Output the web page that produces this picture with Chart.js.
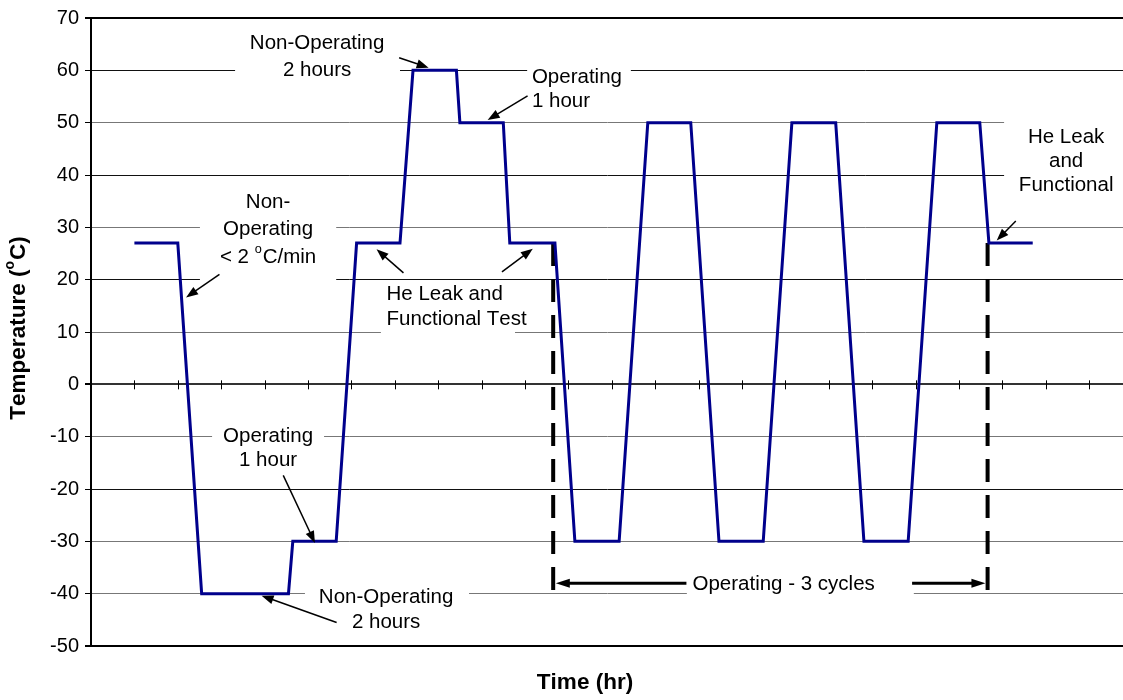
<!DOCTYPE html>
<html>
<head>
<meta charset="utf-8">
<script src="https://cdn.jsdelivr.net/npm/chart.js@4.4.0/dist/chart.umd.min.js"></script>
<style>
  html, body { margin: 0; padding: 0; background: #fff; }
  canvas { display: block; }
</style>
</head>
<body>
<canvas id="cycleChart" width="1123" height="700"></canvas>
<script>
// temperature profile (time in hours, temperature in deg C)
const hours = [1.0, 2.0, 2.55, 4.55, 4.65, 5.65, 6.12, 7.12, 7.42, 8.42, 8.5, 9.5, 9.65, 10.69,
  11.15, 12.17, 12.83, 13.82, 14.47, 15.49, 16.15, 17.16, 17.81, 18.83, 19.49, 20.48, 20.69, 21.7];
const tempC = [27, 27, -40, -40, -30, -30, 27, 27, 60, 60, 50, 50, 27, 27,
  -30, -30, 50, 50, -30, -30, 50, 50, -30, -30, 50, 50, 27, 27];

// start / end of the operating cycles
const markerHours = [10.65, 20.66];
const markerRange = [27, -40];

const yTicks = [70, 60, 50, 40, 30, 20, 10, 0, -10, -20, -30, -40, -50];
const hourTicks = [1, 2, 3, 4, 5, 6, 7, 8, 9, 10, 11, 12, 13, 14, 15, 16, 17, 18, 19, 20, 21, 22, 23];

const FONT = '"Liberation Sans", Arial, Helvetica, sans-serif';
const TXT = 20.5;

// callouts: text lines at (x, y[i]) in data units, white box behind [x0, x1, y0, y1]
const notes = [
  { lines: ['Non-Operating', '2 hours'], x: 5.21, y: [65.1, 60.0], align: 'center', box: [3.32, 7.12, 67.9, 57.4] },
  { lines: ['Operating', '1 hour'], x: 10.16, y: [58.6, 54.0], align: 'left', box: [10.05, 12.44, 62.0, 52.1] },
  { lines: ['Non-', 'Operating', '< 2 ^oC/min'], x: 4.08, y: [34.8, 29.7, 24.3], align: 'center', box: [2.51, 5.65, 37.6, 17.4] },
  { lines: ['Operating', '1 hour'], x: 4.08, y: [-9.9, -14.5], align: 'center', box: [2.79, 5.37, -6.9, -17.6] },
  { lines: ['Non-Operating', '2 hours'], x: 6.80, y: [-40.7, -45.5], align: 'center', box: [4.93, 8.71, -37.2, -48.8] },
  { lines: ['He Leak and', 'Functional Test'], x: 6.81, y: [17.2, 12.45], align: 'left', box: [6.68, 9.77, 19.2, 7.9] },
  { lines: ['He Leak', 'and', 'Functional'], x: 22.47, y: [47.2, 42.6, 38.0], align: 'center', box: [21.04, 24, 54.0, 33.8] },
  { lines: ['Operating - 3 cycles'], x: 15.96, y: [-38.2], align: 'center', box: [13.73, 18.96, -34.5, -42.2] }
];

// arrows: tail (x, y) -> head (x, y), line width
const arrows = [
  [7.10, 62.4, 7.78, 60.5, 1.5],
  [10.06, 55.1, 9.14, 50.5, 1.5],
  [2.96, 21.0, 2.19, 16.6, 1.5],
  [4.43, -17.4, 5.16, -30.3, 1.5],
  [5.66, -45.5, 3.93, -40.4, 1.5],
  [7.20, 21.3, 6.58, 25.8, 1.5],
  [9.47, 21.5, 10.18, 25.9, 1.5],
  [21.31, 31.2, 20.87, 27.5, 1.5],
  [13.72, -38.0, 10.71, -38.0, 3],
  [18.92, -38.0, 20.61, -38.0, 3]
];

function richWidth(ctx, text, size, bold) {
  let w = 0;
  for (let i = 0; i < text.length; i++) {
    if (text[i] === '^') {
      ctx.font = (bold ? 'bold ' : '') + (size * 0.62) + 'px ' + FONT;
      w += ctx.measureText(text[i + 1]).width + 1;
      i++;
    } else {
      ctx.font = (bold ? 'bold ' : '') + size + 'px ' + FONT;
      w += ctx.measureText(text[i]).width;
    }
  }
  return w;
}

// draws text where "^x" puts the character x in superscript
function richText(ctx, text, x, y, align, size, bold) {
  const w = richWidth(ctx, text, size, bold);
  let cx = align === 'center' ? x - w / 2 : x;
  ctx.textAlign = 'left';
  ctx.textBaseline = 'middle';
  for (let i = 0; i < text.length; i++) {
    if (text[i] === '^') {
      ctx.font = (bold ? 'bold ' : '') + (size * 0.62) + 'px ' + FONT;
      ctx.fillText(text[i + 1], cx, y - size * 0.38);
      cx += ctx.measureText(text[i + 1]).width + 1;
      i++;
    } else {
      ctx.font = (bold ? 'bold ' : '') + size + 'px ' + FONT;
      ctx.fillText(text[i], cx, y);
      cx += ctx.measureText(text[i]).width;
    }
  }
}

function drawArrow(ctx, x0, y0, x1, y1, lw) {
  const a = Math.atan2(y1 - y0, x1 - x0);
  const len = lw > 2 ? 14 : 12, half = lw > 2 ? 4.5 : 4.5;
  const c = Math.cos(a), s = Math.sin(a);
  ctx.lineWidth = lw;
  ctx.beginPath();
  ctx.moveTo(x0, y0);
  ctx.lineTo(x1 - c * len * 0.7, y1 - s * len * 0.7);
  ctx.stroke();
  ctx.beginPath();
  ctx.moveTo(x1, y1);
  ctx.lineTo(x1 - c * len + s * half, y1 - s * len - c * half);
  ctx.lineTo(x1 - c * len - s * half, y1 - s * len + c * half);
  ctx.closePath();
  ctx.fill();
}

const calloutPlugin = {
  id: 'callouts',
  beforeDatasetsDraw(chart) {
    const { ctx, scales: { x, y } } = chart;
    ctx.save();
    // zero line with hour ticks
    const y0 = y.getPixelForValue(0);
    ctx.strokeStyle = '#000';
    ctx.lineWidth = 1;
    hourTicks.forEach(h => {
      const px = Math.round(x.getPixelForValue(h)) + 0.5;
      ctx.beginPath();
      ctx.moveTo(px, y0 - 4);
      ctx.lineTo(px, y0 + 5);
      ctx.stroke();
    });
    // white boxes behind the callout text
    ctx.fillStyle = '#fff';
    notes.forEach(n => {
      const [a, b, top, bot] = n.box;
      const l = x.getPixelForValue(a), r = x.getPixelForValue(b);
      const t = y.getPixelForValue(top), btm = y.getPixelForValue(bot);
      ctx.fillRect(l, t, r - l, btm - t);
    });
    ctx.restore();
  },
  afterDatasetsDraw(chart) {
    const { ctx, scales: { x, y } } = chart;
    ctx.save();
    ctx.fillStyle = '#000';
    notes.forEach(n => {
      n.lines.forEach((line, i) => {
        richText(ctx, line, x.getPixelForValue(n.x), y.getPixelForValue(n.y[i]), n.align, TXT, false);
      });
    });
    ctx.strokeStyle = '#000';
    arrows.forEach(([a, b, c, d, lw]) => {
      drawArrow(ctx, x.getPixelForValue(a), y.getPixelForValue(b), x.getPixelForValue(c), y.getPixelForValue(d), lw);
    });
    ctx.restore();
  },
  afterDraw(chart) {
    const { ctx } = chart;
    ctx.save();
    ctx.fillStyle = '#000';
    // axis titles
    richText(ctx, 'Time (hr)', 585, 683, 'center', 22.5, true);
    ctx.translate(19, 328);
    ctx.rotate(-Math.PI / 2);
    richText(ctx, 'Temperature (^oC)', 0, 0, 'center', 22.5, true);
    ctx.restore();
  }
};

const gridStyle = v => {
  if (v === 70 || v === -50) return { color: '#000', width: 2 };
  if (v === 0) return { color: '#333', width: 2 };
  if (v === 60 || v === 40 || v === 20 || v === -20) return { color: '#111', width: 1 };
  return { color: '#777', width: 1 };
};

new Chart(document.getElementById('cycleChart'), {
  type: 'scatter',
  data: {
    datasets: [
      {
        data: hours.map((h, i) => ({ x: h, y: tempC[i] })),
        showLine: true,
        borderColor: '#00008c',
        borderWidth: 3,
        borderJoinStyle: 'miter',
        pointRadius: 0,
        tension: 0
      },
      ...markerHours.map(h => ({
        data: markerRange.map(t => ({ x: h, y: t })),
        showLine: true,
        borderColor: '#000',
        borderWidth: 4,
        borderDash: [23, 13],
        pointRadius: 0
      }))
    ]
  },
  options: {
    responsive: false,
    devicePixelRatio: 1,
    animation: false,
    layout: { padding: { top: 16, right: 0, bottom: 0, left: 0 } },
    plugins: { legend: { display: false }, tooltip: { enabled: false } },
    scales: {
      x: {
        type: 'linear',
        min: 0,
        max: 23.78,
        grid: { display: false },
        border: { display: false },
        ticks: { display: false },
        afterFit: s => { s.height = 54; }
      },
      y: {
        min: -50,
        max: 70,
        afterBuildTicks: s => { s.ticks = yTicks.map(v => ({ value: v })); },
        grid: {
          color: c => gridStyle(c.tick.value).color,
          lineWidth: c => gridStyle(c.tick.value).width,
          tickColor: '#000',
          tickLength: 6
        },
        border: { display: true, color: '#000', width: 2 },
        ticks: { color: '#000', font: { family: FONT, size: 20 }, padding: 6 },
        afterFit: s => { s.width = 91; }
      }
    }
  },
  plugins: [calloutPlugin]
});
</script>
</body>
</html>
